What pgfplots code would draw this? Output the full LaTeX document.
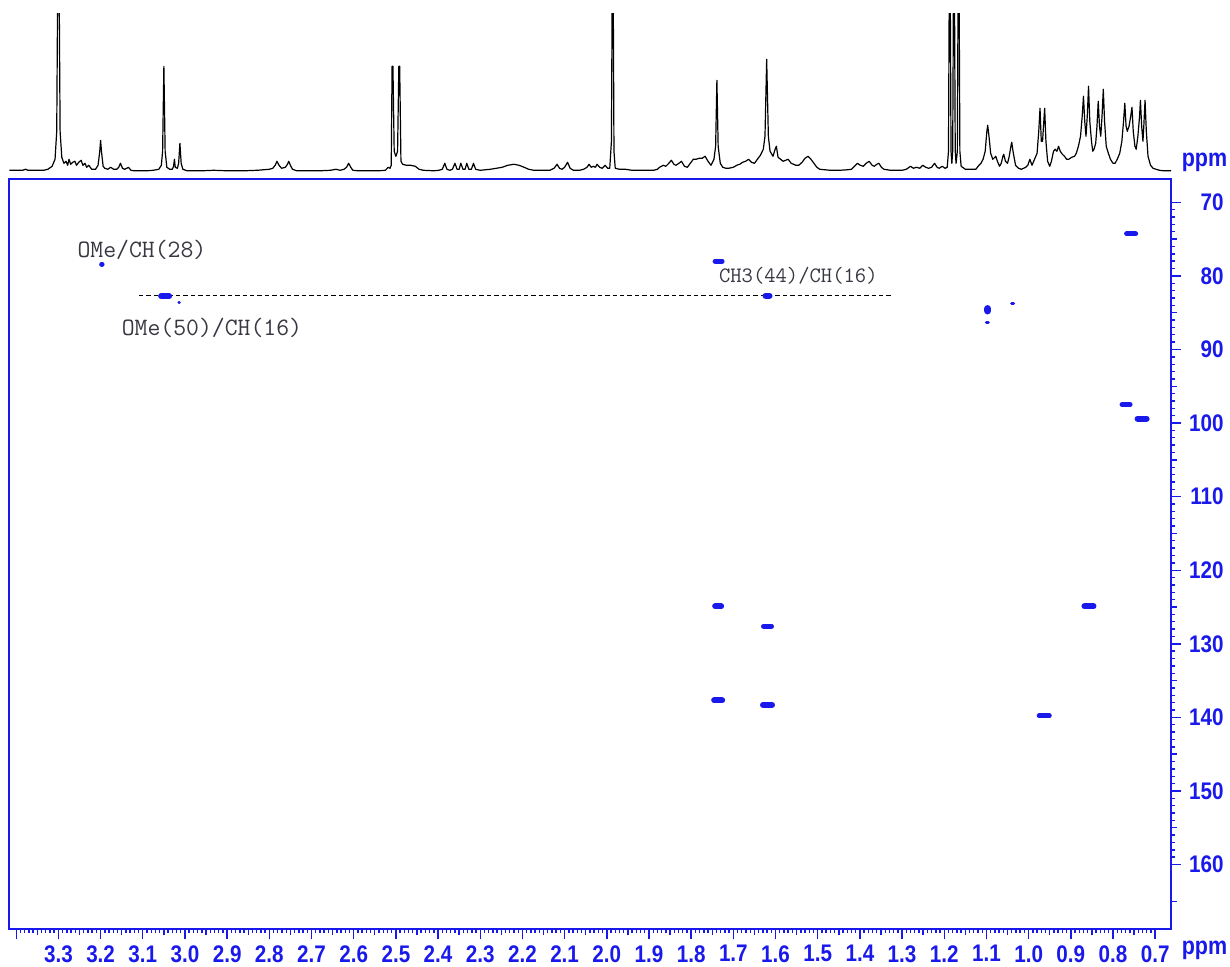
\documentclass[border=0pt]{standalone}
\usepackage{pgfplots}
\pgfplotsset{compat=1.18}
\usepackage{fontspec}
\setmainfont{Liberation Sans}
\newfontfamily\tickfont[FakeStretch=0.86]{Liberation Sans}
\definecolor{nmrblue}{RGB}{25,25,235}
\definecolor{annot}{RGB}{55,55,65}
\begin{document}
\begin{tikzpicture}
\useasboundingbox (-4.75pt,-18.85pt) rectangle (610.25pt,464.65pt);
% ---------- 1D projection ----------
\begin{axis}[at={(0pt,377.5pt)}, anchor=south west, scale only axis,
  width=580.75pt, height=80.5pt, xmin=0.6625, xmax=3.416, x dir=reverse,
  ymin=-3, ymax=158, hide axis, clip=true]
\addplot[black, line width=0.6pt, line join=round] coordinates {
(3.416,1) (3.40,1) (3.385,1) (3.378,2) (3.372,1) (3.35,1) (3.335,1) (3.325,2) (3.315,5) (3.308,12) (3.304,40) (3.3015,200) (3.2985,200) (3.296,40) (3.292,14) (3.287,8) (3.282,10) (3.278,6) (3.275,12) (3.271,7) (3.266,9) (3.261,10) (3.257,6) (3.252,9) (3.246,11) (3.242,6) (3.237,8) (3.233,4) (3.228,6) (3.221,2) (3.212,2) (3.206,6) (3.202,20) (3.200,31) (3.198,20) (3.194,5) (3.19,3) (3.183,2) (3.176,4) (3.169,2) (3.162,2) (3.157,4) (3.153,8) (3.148,3) (3.143,2) (3.138,3) (3.134,4) (3.128,1) (3.12,0.5) (3.09,0.5) (3.075,1) (3.062,2) (3.056,6) (3.053,20) (3.050,105) (3.047,20) (3.043,4) (3.036,2) (3.030,2) (3.027,5) (3.025,12) (3.023,4) (3.018,3) (3.015,8) (3.012,28) (3.009,8) (3.005,2) (2.995,0.5) (2.96,0.5) (2.932,1) (2.90,0.5) (2.86,0.5) (2.829,1) (2.80,2) (2.792,3) (2.786,6) (2.782,10) (2.777,6) (2.771,3) (2.762,4) (2.757,7) (2.754,10) (2.749,5) (2.745,2) (2.735,0.5) (2.68,0.5) (2.655,1) (2.642,2) (2.632,1) (2.623,2) (2.617,4) (2.612,8) (2.607,4) (2.602,1) (2.59,0.5) (2.54,0.5) (2.525,1) (2.518,4) (2.514,3) (2.511,6) (2.509,105) (2.507,105) (2.504,20) (2.500,15) (2.496,20) (2.493,105) (2.491,105) (2.488,10) (2.484,7) (2.475,6) (2.465,6) (2.454,5) (2.445,2) (2.435,1) (2.41,0.5) (2.398,1) (2.390,2) (2.384,8) (2.379,2) (2.372,1) (2.366,2) (2.360,8) (2.355,2) (2.350,2) (2.346,8) (2.341,2) (2.336,2) (2.332,8) (2.327,2) (2.321,2) (2.316,8) (2.311,2) (2.30,1) (2.276,2) (2.262,3) (2.248,4) (2.235,6) (2.220,7) (2.208,6) (2.196,4) (2.185,2) (2.173,1) (2.15,1) (2.135,1) (2.125,3) (2.118,7) (2.112,3) (2.106,2) (2.100,4) (2.093,9) (2.087,3) (2.079,1) (2.065,1) (2.055,2) (2.047,4) (2.042,7) (2.037,4) (2.032,5) (2.027,4) (2.023,7) (2.017,4) (2.011,3) (2.004,6) (1.998,3) (1.993,3) (1.989,30) (1.987,200) (1.985,200) (1.983,20) (1.980,3) (1.97,2) (1.956,2) (1.94,1) (1.917,1) (1.90,1) (1.889,1) (1.880,2) (1.875,4) (1.866,6) (1.860,5) (1.853,8) (1.847,11) (1.841,7) (1.836,6) (1.829,8) (1.823,10) (1.816,5) (1.809,4) (1.802,8) (1.795,12) (1.788,12) (1.781,13) (1.774,13) (1.767,15) (1.760,10) (1.753,6) (1.746,12) (1.742,25) (1.739,91) (1.736,25) (1.731,8) (1.725,4) (1.718,3) (1.711,3) (1.700,4) (1.692,6) (1.685,7) (1.678,9) (1.671,10) (1.664,12) (1.657,9) (1.650,8) (1.643,12) (1.636,16) (1.629,22) (1.625,35) (1.621,112) (1.617,35) (1.613,20) (1.606,15) (1.601,22) (1.598,25) (1.594,14) (1.588,12) (1.582,10) (1.576,11) (1.570,12) (1.563,8) (1.557,7) (1.552,6) (1.545,6) (1.537,9) (1.530,13) (1.523,15) (1.516,12) (1.509,8) (1.502,4) (1.495,2) (1.47,1) (1.448,1) (1.43,1.5) (1.420,2) (1.413,5) (1.406,8) (1.399,6) (1.392,5) (1.385,8) (1.378,10) (1.371,6) (1.366,5) (1.360,7) (1.355,8) (1.349,4) (1.343,2) (1.327,1) (1.30,1) (1.290,2) (1.280,5) (1.273,3) (1.266,4) (1.258,3) (1.251,6) (1.244,4) (1.237,3) (1.230,4) (1.223,8) (1.217,4) (1.212,3) (1.205,5) (1.198,3) (1.193,4) (1.190,20) (1.188,200) (1.186,200) (1.184,20) (1.182,8) (1.180,20) (1.178,200) (1.176,200) (1.174,20) (1.172,8) (1.169,20) (1.167,200) (1.165,200) (1.163,20) (1.160,5) (1.150,2) (1.136,2) (1.125,2) (1.118,6) (1.113,8) (1.108,12) (1.103,20) (1.099,40) (1.097,46) (1.094,35) (1.090,18) (1.085,12) (1.080,14) (1.078,15) (1.074,10) (1.069,5) (1.065,8) (1.061,15) (1.059,17) (1.055,10) (1.050,8) (1.046,15) (1.042,25) (1.040,29) (1.037,20) (1.031,6) (1.024,3) (1.017,2) (1.012,3) (1.007,4) (1.002,6) (0.997,12) (0.992,6) (0.988,10) (0.984,14) (0.980,18) (0.976,40) (0.973,63) (0.970,30) (0.967,30) (0.964,50) (0.962,63) (0.959,30) (0.955,10) (0.950,5) (0.946,10) (0.941,20) (0.937,22) (0.933,20) (0.929,25) (0.925,20) (0.920,17) (0.915,15) (0.910,12) (0.905,12) (0.898,14) (0.891,15) (0.887,18) (0.882,25) (0.877,35) (0.873,55) (0.870,75) (0.867,50) (0.864,35) (0.861,55) (0.858,85) (0.855,50) (0.851,30) (0.848,20) (0.845,22) (0.841,28) (0.838,45) (0.835,70) (0.832,45) (0.829,35) (0.826,55) (0.823,82) (0.820,50) (0.816,25) (0.811,18) (0.806,12) (0.800,8) (0.795,8) (0.790,12) (0.784,18) (0.779,30) (0.775,50) (0.772,68) (0.769,45) (0.766,40) (0.762,45) (0.758,55) (0.755,64) (0.752,40) (0.748,25) (0.745,22) (0.741,35) (0.737,55) (0.735,71) (0.732,45) (0.729,30) (0.727,45) (0.724,71) (0.721,40) (0.717,15) (0.711,6) (0.705,3) (0.698,2) (0.69,1) (0.68,0.5) (0.6625,0.5)
};
\end{axis}
% ---------- 2D map ----------
\begin{axis}[at={(0pt,0pt)}, anchor=south west, scale only axis,
  width=580.75pt, height=375pt,
  xmin=0.6625, xmax=3.416, x dir=reverse,
  ymin=66.87, ymax=168.8, y dir=reverse,
  axis line style={nmrblue, line width=1pt},
  tick style={nmrblue, line width=0.7pt},
  tick align=outside, xtick pos=bottom, ytick pos=right, yticklabel pos=right,
  xtick={0.7,0.8,0.9,1.0,1.1,1.2,1.3,1.4,1.5,1.6,1.7,1.8,1.9,2.0,2.1,2.2,2.3,2.4,2.5,2.6,2.7,2.8,2.9,3.0,3.1,3.2,3.3,3.4},
  xticklabels={0.7,0.8,0.9,1.0,1.1,1.2,1.3,1.4,1.5,1.6,1.7,1.8,1.9,2.0,2.1,2.2,2.3,2.4,2.5,2.6,2.7,2.8,2.9,3.0,3.1,3.2,3.3,{}},
  ytick={70,80,90,100,110,120,130,140,150,160},
  yticklabels={70,80,90,100,110,120,130,140,150,160},
  minor x tick num=9, minor y tick num=9,
  major tick length=5pt, minor tick length=1.75pt,
  extra x ticks={0.75,0.85,0.95,1.05,1.15,1.25,1.35,1.45,1.55,1.65,1.75,1.85,1.95,2.05,2.15,2.25,2.35,2.45,2.55,2.65,2.75,2.85,2.95,3.05,3.15,3.25,3.35},
  extra x tick labels={},
  extra x tick style={major tick length=3pt},
  extra y ticks={75,85,95,105,115,125,135,145,155,165},
  extra y tick labels={},
  extra y tick style={major tick length=3pt},
  ticklabel style={font=\tickfont\bfseries\fontsize{12}{12}\selectfont, text=nmrblue},
  xticklabel style={yshift=0.5pt},
  yticklabel style={anchor=east, xshift=21.5pt, inner sep=0pt},
  clip=false]
% dashed guide
\addplot[black, line width=0.65pt, dash pattern=on 2.2pt off 1.5pt] coordinates {(3.109,82.7) (1.324,82.7)};
% cross peaks
\addplot[nmrblue, line width=2.5pt, line cap=round] coordinates {(3.1975,78.4) (3.1965,78.4)};
\addplot[nmrblue, line width=3pt, line cap=round] coordinates {(3.0565,82.75) (3.0375,82.75)};
\addplot[nmrblue, line width=1.5pt, line cap=round] coordinates {(3.0145,83.6) (3.0135,83.6)};
\addplot[nmrblue, line width=2.5pt, line cap=round] coordinates {(1.7433,78.0) (1.7267,78.0)};
\addplot[nmrblue, line width=3pt, line cap=round] coordinates {(1.6237,82.7) (1.6143,82.7)};
\addplot[nmrblue, line width=3.6pt, line cap=round] coordinates {(1.097,84.45) (1.097,84.75)};
\addplot[nmrblue, line width=1.5pt, line cap=round] coordinates {(1.1004,86.4) (1.0956,86.4)};
\addplot[nmrblue, line width=1.5pt, line cap=round] coordinates {(1.0404,83.8) (1.0356,83.8)};
\addplot[nmrblue, line width=2.5pt, line cap=round] coordinates {(0.7677,74.3) (0.7463,74.3)};
\addplot[nmrblue, line width=2.5pt, line cap=round] coordinates {(0.7785,97.5) (0.7595,97.5)};
\addplot[nmrblue, line width=3pt, line cap=round] coordinates {(0.7417,99.4) (0.7203,99.4)};
\addplot[nmrblue, line width=3pt, line cap=round] coordinates {(1.7431,124.9) (1.7289,124.9)};
\addplot[nmrblue, line width=2.5pt, line cap=round] coordinates {(1.6285,127.6) (1.6095,127.6)};
\addplot[nmrblue, line width=3pt, line cap=round] coordinates {(1.7455,137.7) (1.7265,137.7)};
\addplot[nmrblue, line width=3pt, line cap=round] coordinates {(1.6297,138.3) (1.6083,138.3)};
\addplot[nmrblue, line width=2.5pt, line cap=round] coordinates {(0.9749,139.8) (0.9511,139.8)};
\addplot[nmrblue, line width=3pt, line cap=round] coordinates {(0.8677,124.9) (0.8463,124.9)};
% annotations
\node[font=\ttfamily\fontsize{12.5}{12.5}\selectfont, text=annot] at (axis cs:3.102,76.5) {OMe/CH(28)};
\node[font=\ttfamily\fontsize{12.5}{12.5}\selectfont, text=annot] at (axis cs:2.936,87.05) {OMe(50)/CH(16)};
\node[font=\ttfamily\fontsize{11}{11}\selectfont, text=annot] at (axis cs:1.546,80.0) {CH3(44)/CH(16)};
\end{axis}
\node[font=\tickfont\bfseries\fontsize{12.5}{12}\selectfont, text=nmrblue] at (597.5pt,383.5pt) {ppm};
\node[font=\tickfont\bfseries\fontsize{12.5}{12}\selectfont, text=nmrblue] at (597.5pt,-10.5pt) {ppm};
\end{tikzpicture}
\end{document}
